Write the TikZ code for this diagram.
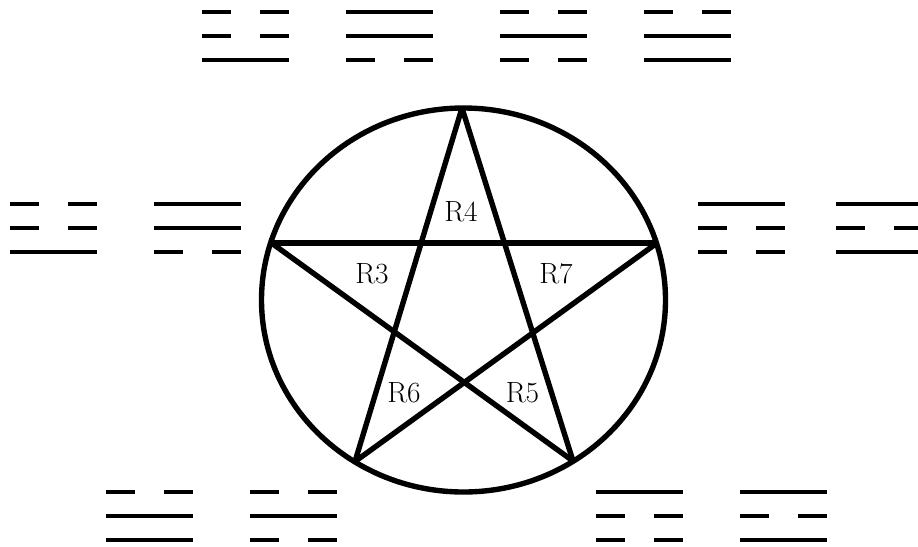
\documentclass[tikz,border=0pt]{standalone}
\usepackage{fontspec}
\usepackage{tikz}
\tikzset{
    thinBar/.style={line width=2.6pt},
    thickBar/.style={line width=4.2pt},
    starLine/.style={line width=4.6pt},
    regionLabel/.style={
        font=\fontsize{25}{30}\selectfont,
        inner sep=0pt
    }
}
% one line of a trigram: x, y, solid (1) or broken (0), style
\newcommand{\yao}[4]{%
    \ifnum#3=1
        \draw[#4] (#1,#2) -- ++(86.7,0);
    \else
        \draw[#4] (#1,#2) -- ++(28.9,0) ++(28.9,0) -- ++(28.9,0);
    \fi}
% a trigram: x, y of top line, style, top, middle, bottom
\newcommand{\gua}[6]{%
    \yao{#1}{#2}{#4}{#3}
    \yao{#1}{#2+24}{#5}{#3}
    \yao{#1}{#2+48}{#6}{#3}}

\begin{document}
\begin{tikzpicture}[x=0.03cm, y=-0.03cm]
            \useasboundingbox (0,0) rectangle (918,546);

            % Coordinates
            \coordinate (O) at (463.5,300);
            \coordinate (top) at (462,108);
            \coordinate (left) at (271.5,243);
            \coordinate (right) at (657,243);
            \coordinate (botL) at (355,461.5);
            \coordinate (botR) at (573,461);

            % Circle
            \draw[starLine] (O) ellipse [x radius=202, y radius=192];

            % Star
            \draw[starLine] (top) -- (botL);
            \draw[starLine] (top) -- (botR);
            \draw[starLine] (left) -- (right);
            \draw[starLine] (left) -- (botR);
            \draw[starLine] (right) -- (botL);

            % Regions
            \node[regionLabel] (R4) at (461,212) {R4};
            \node[regionLabel] (R3) at (372,274) {R3};
            \node[regionLabel] (R7) at (556,274) {R7};
            \node[regionLabel] (R6) at (404,393) {R6};
            \node[regionLabel] (R5) at (522.5,393) {R5};

            % Trigrams, top row
            \gua{202}{12}{thinBar}{0}{0}{1}
            \gua{346}{12}{thickBar}{1}{1}{0}
            \gua{500}{12}{thinBar}{0}{1}{0}
            \gua{644}{12}{thickBar}{0}{1}{1}

            % Trigrams, left and right
            \gua{10}{204}{thickBar}{0}{0}{1}
            \gua{154}{204}{thinBar}{1}{1}{0}
            \gua{698}{204}{thickBar}{1}{0}{0}
            \gua{836}{204}{thinBar}{1}{0}{1}

            % Trigrams, bottom row
            \gua{106}{492}{thinBar}{0}{1}{1}
            \gua{250}{492}{thickBar}{0}{1}{0}
            \gua{596}{492}{thinBar}{1}{0}{0}
            \gua{740}{492}{thickBar}{1}{0}{1}
        \end{tikzpicture}
\end{document}
